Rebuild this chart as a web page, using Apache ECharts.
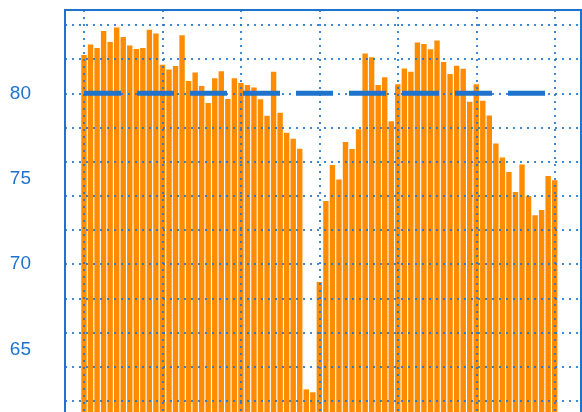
<!DOCTYPE html>
<html>
<head>
<meta charset="utf-8">
<script src="https://cdn.jsdelivr.net/npm/echarts@6/dist/echarts.min.js"></script>
<style>html,body{margin:0;padding:0;background:#fff;}#chart{width:582px;height:412px;}</style>
</head>
<body>
<div id="chart"></div>
<script>
const values = [
  82.25, 82.86, 82.65, 83.65, 83.0, 83.86, 83.3, 82.8, 82.6, 82.65, 83.72, 83.5,
  81.68, 81.4, 81.6, 83.4, 80.72, 81.22, 80.43, 79.43, 80.88, 81.3, 79.67, 80.88,
  80.6, 80.49, 80.35, 79.65, 78.69, 81.27, 78.86, 77.7, 77.34, 76.76, 62.67, 62.5,
  68.95, 73.7, 75.8, 74.96, 77.15, 76.74, 77.9, 82.34, 82.12, 80.49, 80.94, 78.36,
  80.54, 81.46, 81.27, 82.98, 82.89, 82.58, 83.1, 81.83, 81.13, 81.62, 81.44, 79.51,
  80.54, 79.57, 78.71, 77.07, 76.25, 75.39, 74.22, 75.84, 73.99, 72.86, 73.17, 75.16,
  74.92
];
const target = 80;
const yMin = 60;
const yMax = 84.88;

const blue = '#1f73cc';
const dotStyle = { color: 'rgba(31,115,204,0.85)', width: 2, type: [2, 5] };

const chart = echarts.init(document.getElementById('chart'), null, { renderer: 'canvas' });
chart.setOption({
  animation: false,
  backgroundColor: '#ffffff',
  grid: [
    { left: 65, right: 1, top: 10, height: 425, outerBoundsMode: 'none', containLabel: false,
      show: true, borderColor: blue, borderWidth: 2, backgroundColor: 'transparent', z: 6 },
    { left: 84, width: 470.7, top: 10, height: 425, outerBoundsMode: 'none', containLabel: false }
  ],
  xAxis: [
    { gridIndex: 0, type: 'value', min: 0, max: 1, show: false },
    { gridIndex: 1, type: 'value', min: 0, max: values.length - 1, interval: 12, z: 5,
      axisLine: { show: false }, axisTick: { show: false }, axisLabel: { show: false },
      splitLine: { show: true, lineStyle: dotStyle } }
  ],
  yAxis: [
    { gridIndex: 0, type: 'value', min: yMin, max: yMax, interval: 5,
      axisLine: { show: false }, axisTick: { show: false }, splitLine: { show: false },
      axisLabel: { color: blue, fontSize: 19, fontFamily: 'Liberation Sans, Arial, sans-serif', margin: 34,
        showMinLabel: false, showMaxLabel: false } },
    { gridIndex: 0, type: 'value', min: yMin, max: yMax, interval: 2, z: 5,
      axisLine: { show: false }, axisTick: { show: false }, axisLabel: { show: false },
      splitLine: { show: true, lineStyle: dotStyle } },
    { gridIndex: 1, type: 'value', min: yMin, max: yMax, show: false, splitLine: { show: false } }
  ],
  series: [
    { type: 'bar', xAxisIndex: 1, yAxisIndex: 2, barWidth: 5.4, z: 2,
      itemStyle: { color: '#ff8c00' },
      data: values.map((v, i) => [i, v]) },
    { type: 'line', xAxisIndex: 1, yAxisIndex: 2, z: 10, showSymbol: false, symbol: 'none',
      lineStyle: { color: blue, width: 5, type: [37, 16], cap: 'butt' },
      data: [[0, target], [values.length - 1, target]] }
  ]
});
</script>
</body>
</html>
